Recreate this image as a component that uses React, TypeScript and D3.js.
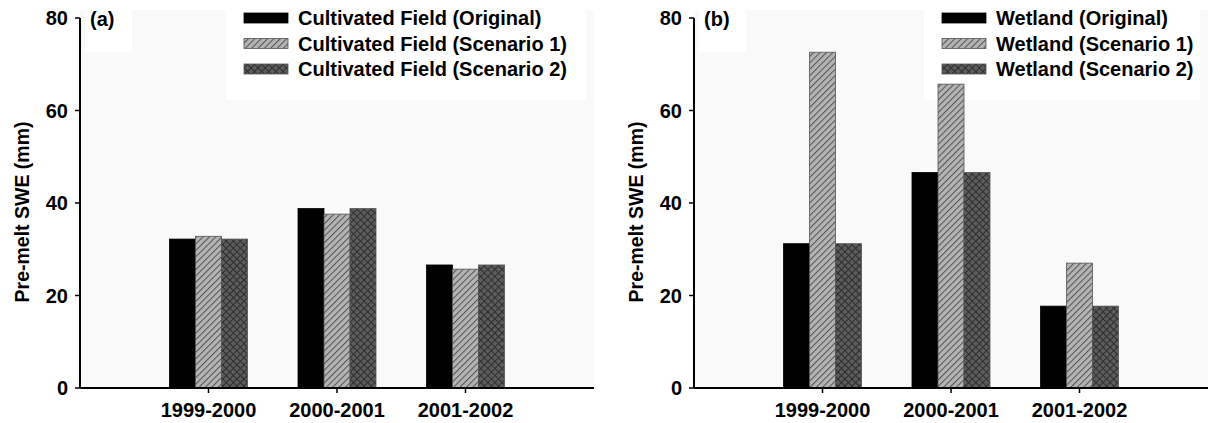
import React from "react";
import * as d3 from "d3";

// Season categories on the x axis
const seasons = ["1999-2000", "2000-2001", "2001-2002"];
const yTicks = [0, 20, 40, 60, 80];

// Pre-melt snow water equivalent (mm), cultivated field
const fieldOriginal = [32.2, 38.8, 26.6];
const fieldScenario1 = [32.8, 37.6, 25.7];
const fieldScenario2 = [32.2, 38.8, 26.6];

// Pre-melt snow water equivalent (mm), wetland
const wetOriginal = [31.2, 46.6, 17.7];
const wetScenario1 = [72.6, 65.7, 27.0];
const wetScenario2 = [31.2, 46.6, 17.7];

const fieldLegend = [
  "Cultivated Field (Original)",
  "Cultivated Field (Scenario 1)",
  "Cultivated Field (Scenario 2)",
];
const wetLegend = ["Wetland (Original)", "Wetland (Scenario 1)", "Wetland (Scenario 2)"];

const FILLS = ["#000000", "url(#hatch)", "url(#cross)"];
const FONT = "'Liberation Sans', Arial, Helvetica, sans-serif";

type PanelProps = {
  axisX: number;
  tag: string;
  series: number[][];
  legend: string[];
  legendX: number;
};

const Y0 = 388;
const Y80 = 18;
const STEP = 128.5;
const BAR_W = 26;

function Panel({ axisX, tag, series, legend, legendX }: PanelProps) {
  const y = d3.scaleLinear().domain([0, 80]).range([Y0, Y80]);
  const x = d3.scaleLinear().domain([0, 4]).range([axisX, axisX + 4 * STEP]);
  const right = x(4);

  return (
    <g>
      {/* plot background */}
      <rect x={axisX} y={10} width={right - axisX} height={Y0 - 10} fill="#f9f9f9" />
      <rect x={axisX + 5} y={10} width={47} height={42} fill="#ffffff" />
      <rect x={legendX - 18} y={2} width={right - legendX + 10} height={98} fill="#ffffff" />
      <rect x={axisX + 90} y={Y0 + 8} width={360} height={30} fill="#ffffff" />

      {/* bars */}
      {seasons.map((s, i) =>
        series.map((vals, k) => {
          const cx = x(i + 1);
          const bx = cx - 1.5 * BAR_W + k * BAR_W;
          return (
            <rect
              key={s + k}
              x={bx}
              y={y(vals[i])}
              width={BAR_W}
              height={Y0 - y(vals[i])}
              fill={FILLS[k]}
              stroke={k === 0 ? "#000" : "#555"}
              strokeWidth={0.8}
            />
          );
        })
      )}

      {/* y axis */}
      <line x1={axisX} x2={axisX} y1={Y80} y2={Y0} stroke="#000" strokeWidth={2} />
      {yTicks.map((t) => (
        <g key={t}>
          <line x1={axisX - 5} x2={axisX} y1={y(t)} y2={y(t)} stroke="#000" strokeWidth={1.5} />
          <text
            x={axisX - 12}
            y={y(t)}
            textAnchor="end"
            dominantBaseline="central"
            fontFamily={FONT}
            fontWeight="bold"
            fontSize={20}
          >
            {t}
          </text>
        </g>
      ))}

      {/* x axis */}
      <line x1={axisX} x2={right} y1={Y0} y2={Y0} stroke="#000" strokeWidth={2} />
      {seasons.map((s, i) => (
        <g key={s}>
          <line x1={x(i + 1)} x2={x(i + 1)} y1={Y0} y2={Y0 + 5} stroke="#000" strokeWidth={1.5} />
          <text
            x={x(i + 1)}
            y={410}
            textAnchor="middle"
            dominantBaseline="central"
            fontFamily={FONT}
            fontWeight="bold"
            fontSize={20}
          >
            {s}
          </text>
        </g>
      ))}

      {/* y axis title */}
      <text
        transform={`translate(${axisX - 58},${212}) rotate(-90)`}
        textAnchor="middle"
        dominantBaseline="central"
        fontFamily={FONT}
        fontWeight="bold"
        fontSize={19.5}
      >
        Pre-melt SWE (mm)
      </text>

      {/* panel tag */}
      <text
        x={axisX + 10}
        y={Y80 + 1}
        dominantBaseline="central"
        fontFamily={FONT}
        fontWeight="bold"
        fontSize={20}
      >
        {tag}
      </text>

      {/* legend */}
      {legend.map((label, k) => {
        const ly = 18 + k * 25.5;
        return (
          <g key={label}>
            <rect
              x={legendX}
              y={ly - 5}
              width={44}
              height={10}
              fill={FILLS[k]}
              stroke={k === 0 ? "#000" : "#555"}
              strokeWidth={0.8}
            />
            <text
              x={legendX + 54}
              y={ly}
              dominantBaseline="central"
              fontFamily={FONT}
              fontWeight="bold"
              fontSize={20}
            >
              {label}
            </text>
          </g>
        );
      })}
    </g>
  );
}

export default function App() {
  return (
    <svg
      width={1209}
      height={423}
      style={{ position: "fixed", left: 0, top: 0, background: "#ffffff" }}
    >
      <defs>
        <pattern
          id="hatch"
          patternUnits="userSpaceOnUse"
          width={4.5}
          height={4.5}
          patternTransform="rotate(45)"
        >
          <rect width={4.5} height={4.5} fill="#b4b4b4" />
          <line x1={0.5} y1={0} x2={0.5} y2={4.5} stroke="#555" strokeWidth={1.1} />
        </pattern>
        <pattern
          id="cross"
          patternUnits="userSpaceOnUse"
          width={5}
          height={5}
          patternTransform="rotate(45)"
        >
          <rect width={5} height={5} fill="#5c5c5c" />
          <line x1={0.5} y1={0} x2={0.5} y2={5} stroke="#2e2e2e" strokeWidth={1} />
          <line x1={0} y1={0.5} x2={5} y2={0.5} stroke="#2e2e2e" strokeWidth={1} />
        </pattern>
      </defs>
      <Panel
        axisX={80}
        tag="(a)"
        series={[fieldOriginal, fieldScenario1, fieldScenario2]}
        legend={fieldLegend}
        legendX={244}
      />
      <Panel
        axisX={694}
        tag="(b)"
        series={[wetOriginal, wetScenario1, wetScenario2]}
        legend={wetLegend}
        legendX={942}
      />
    </svg>
  );
}
